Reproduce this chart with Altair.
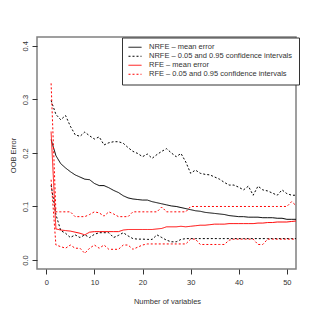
import altair as alt
import pandas as pd

n_vars = list(range(1, 53))

nrfe_mean = [0.225, 0.195, 0.180, 0.172, 0.165, 0.159, 0.155, 0.151, 0.150, 0.143,
             0.139, 0.139, 0.135, 0.130, 0.126, 0.120, 0.116, 0.114, 0.113, 0.112,
             0.112, 0.109, 0.107, 0.105, 0.103, 0.101, 0.100, 0.098, 0.096, 0.094,
             0.092, 0.091, 0.089, 0.088, 0.087, 0.086, 0.085, 0.083, 0.082, 0.081,
             0.081, 0.080, 0.080, 0.080, 0.079, 0.079, 0.079, 0.078, 0.078, 0.076,
             0.076, 0.076]
nrfe_upper = [0.298, 0.272, 0.262, 0.270, 0.250, 0.234, 0.231, 0.239, 0.232, 0.226,
              0.230, 0.215, 0.219, 0.221, 0.221, 0.218, 0.210, 0.203, 0.199, 0.193,
              0.198, 0.190, 0.197, 0.203, 0.208, 0.200, 0.193, 0.199, 0.183, 0.162,
              0.168, 0.162, 0.160, 0.159, 0.155, 0.151, 0.145, 0.140, 0.140, 0.136,
              0.131, 0.138, 0.121, 0.138, 0.131, 0.129, 0.125, 0.121, 0.131, 0.124,
              0.121, 0.121]
nrfe_lower = [0.140, 0.085, 0.055, 0.050, 0.042, 0.047, 0.042, 0.047, 0.042, 0.048,
              0.051, 0.051, 0.051, 0.042, 0.046, 0.051, 0.045, 0.040, 0.039, 0.039,
              0.0385, 0.0385, 0.047, 0.042, 0.037, 0.034, 0.034, 0.0385, 0.040, 0.040,
              0.040, 0.040, 0.040, 0.040, 0.040, 0.040, 0.040, 0.040, 0.040, 0.040,
              0.040, 0.040, 0.040, 0.040, 0.040, 0.040, 0.040, 0.040, 0.040, 0.040,
              0.040, 0.040]
rfe_mean = [0.240, 0.058, 0.056, 0.055, 0.054, 0.052, 0.050, 0.047, 0.052, 0.053,
            0.053, 0.053, 0.053, 0.053, 0.053, 0.056, 0.057, 0.057, 0.057, 0.057,
            0.057, 0.057, 0.058, 0.059, 0.062, 0.062, 0.062, 0.063, 0.062, 0.063,
            0.064, 0.065, 0.065, 0.066, 0.067, 0.067, 0.067, 0.068, 0.068, 0.068,
            0.068, 0.068, 0.068, 0.069, 0.069, 0.070, 0.070, 0.071, 0.071, 0.071,
            0.072, 0.073]
rfe_upper = [0.330, 0.090, 0.090, 0.090, 0.090, 0.081, 0.081, 0.081, 0.085, 0.090,
             0.088, 0.082, 0.090, 0.086, 0.081, 0.081, 0.081, 0.090, 0.090, 0.090,
             0.090, 0.090, 0.090, 0.099, 0.090, 0.090, 0.090, 0.090, 0.090, 0.100,
             0.100, 0.100, 0.100, 0.100, 0.100, 0.100, 0.100, 0.100, 0.100, 0.100,
             0.100, 0.100, 0.100, 0.100, 0.100, 0.100, 0.100, 0.100, 0.100, 0.100,
             0.109, 0.101]
rfe_lower = [0.150, 0.028, 0.025, 0.022, 0.028, 0.022, 0.022, 0.0125, 0.022, 0.028,
             0.022, 0.028, 0.020, 0.020, 0.020, 0.028, 0.028, 0.020, 0.024, 0.028,
             0.030, 0.030, 0.030, 0.030, 0.030, 0.030, 0.030, 0.030, 0.030, 0.039,
             0.039, 0.029, 0.029, 0.029, 0.029, 0.029, 0.029, 0.037, 0.039, 0.039,
             0.039, 0.039, 0.039, 0.029, 0.029, 0.039, 0.039, 0.039, 0.039, 0.039,
             0.039, 0.039]

labels = ["NRFE – mean error",
          "NRFE – 0.05 and 0.95 confidence intervals",
          "RFE – mean error",
          "RFE – 0.05 and 0.95 confidence intervals"]
x_ticks = [0, 10, 20, 30, 40, 50]
y_ticks = [0.0, 0.1, 0.2, 0.3, 0.4]

series = [
    ("nrfe_mean", labels[0], "NRFE", nrfe_mean),
    ("nrfe_upper", labels[1], "NRFE", nrfe_upper),
    ("nrfe_lower", labels[1], "NRFE", nrfe_lower),
    ("rfe_mean", labels[2], "RFE", rfe_mean),
    ("rfe_upper", labels[3], "RFE", rfe_upper),
    ("rfe_lower", labels[3], "RFE", rfe_lower),
]
rows = []
for lid, lab, method, vals in series:
    for xv, yv in zip(n_vars, vals):
        rows.append({"x": xv, "value": yv, "series": lab, "line": lid, "method": method})
df = pd.DataFrame(rows)

FONT = "Liberation Sans"
TXT = "#333"

x_enc = alt.X("x:Q",
              scale=alt.Scale(domain=[-1.93, 51.9], nice=False, zero=False),
              axis=alt.Axis(values=x_ticks, format="d", title="Number of variables",
                            domain=False, grid=False, tickSize=5, tickColor="#333",
                            labelPadding=4, labelFontSize=7.5, labelColor=TXT,
                            titleFontSize=7.5, titleFontWeight="normal", titleColor=TXT,
                            titleX=130, titleY=32, titleBaseline="middle"))
y_enc = alt.Y("value:Q",
              scale=alt.Scale(domain=[-0.0168, 0.4166], nice=False, zero=False),
              axis=alt.Axis(values=y_ticks, format=".1f", title="OOB Error",
                            domain=False, grid=False, tickSize=5, tickColor="#333",
                            labelAngle=270, labelAlign="center", labelBaseline="bottom",
                            labelPadding=3, labelFontSize=7.5, labelColor=TXT,
                            titleFontSize=7.5, titleFontWeight="normal", titleColor=TXT,
                            titleX=-24, titleY=118, titleAlign="center",
                            titleBaseline="middle"))
legend = alt.Legend(title=None, orient="none", legendX=85, legendY=0.5,
                    symbolType="stroke", symbolSize=169,
                    symbolStrokeWidth=1, labelFontSize=7.5,
                    labelFont=FONT, labelColor=TXT, labelOffset=7,
                    padding=6, rowPadding=0, clipHeight=7.5,
                    strokeColor="#333", fillColor="white",
                    labelLimit=400)
color_enc = alt.Color("series:N",
                      scale=alt.Scale(domain=labels, range=["black", "black", "red", "red"]),
                      legend=legend)
dash_enc = alt.StrokeDash("series:N",
                          scale=alt.Scale(domain=labels,
                                          range=[[1, 0], [2, 2], [1, 0], [2, 2]]),
                          legend=legend)

base = alt.Chart(df).mark_line(strokeWidth=1, clip=True).encode(
    x=x_enc, y=y_enc, color=color_enc, strokeDash=dash_enc, detail="line:N"
)

chart = alt.layer(
    base.transform_filter(alt.datum.method == "NRFE"),
    base.transform_filter(alt.datum.method == "RFE"),
).properties(
    width=259, height=232,
    autosize=alt.AutoSizeParams(type="none"),
    padding={"left": 29, "top": 29, "right": 10, "bottom": 40},
).configure(font=FONT).configure_view(stroke="#808080", strokeWidth=1.5)

chart.save("out.html", embed_options={"renderer": "svg", "actions": False})
